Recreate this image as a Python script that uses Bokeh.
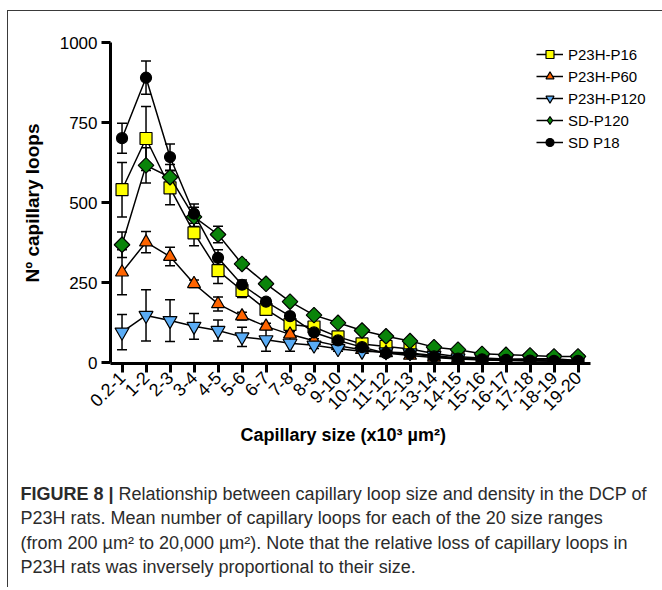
import numpy as np
from bokeh.plotting import figure
from bokeh.models import (ColumnDataSource, Whisker, TeeHead, Legend, LegendItem,
                          Range1d, FixedTicker, Title)
from bokeh.embed import file_html
from bokeh.resources import INLINE
from bokeh.core.properties import value

categories = ["0.2-1", "1-2", "2-3", "3-4", "4-5", "5-6", "6-7", "7-8", "8-9", "9-10",
              "10-11", "11-12", "12-13", "13-14", "14-15", "15-16", "16-17", "17-18",
              "18-19", "19-20"]

p23h_p16 = [540, 700, 546, 405, 287, 225, 166, 119, 111, 80, 58, 50, 42, 28, 18, 14, 11, 9, 8, 6]
p23h_p16_err = [85, 100, 53, 40, 40, 22, 18, 12, 10, 8, 6, 5, 5, 4, 3, 3, 2, 2, 2, 2]

p23h_p60 = [282, 376, 331, 246, 183, 145, 113, 88, 68, 52, 40, 30, 22, 16, 11, 8, 6, 5, 4, 3]
p23h_p60_err = [70, 33, 29, 12, 22, 12, 10, 8, 6, 5, 4, 4, 3, 3, 2, 2, 2, 2, 2, 2]

p23h_p120 = [95, 147, 131, 113, 100, 80, 71, 60, 54, 43, 35, 33, 30, 22, 14, 10, 8, 12, 12, 6]
p23h_p120_err = [55, 80, 65, 40, 33, 30, 36, 25, 10, 8, 6, 6, 5, 4, 3, 3, 3, 3, 3, 2]

sd_p120 = [368, 616, 579, 455, 400, 308, 246, 190, 148, 124, 100, 82, 67, 48, 40, 27, 24, 22, 19, 19]
sd_p120_err = [40, 55, 40, 30, 26, 12, 10, 8, 7, 6, 5, 5, 4, 4, 3, 3, 3, 3, 3, 3]

sd_p18 = [701, 890, 642, 465, 327, 243, 190, 145, 94, 69, 48, 29, 27, 19, 12, 10, 8, 6, 5, 5]
sd_p18_err = [47, 52, 41, 30, 25, 15, 10, 8, 6, 5, 4, 4, 3, 3, 2, 2, 2, 2, 2, 2]

series_names = ["P23H-P16", "P23H-P60", "P23H-P120", "SD-P120", "SD P18"]
series_values = [p23h_p16, p23h_p60, p23h_p120, sd_p120, sd_p18]
series_errors = [p23h_p16_err, p23h_p60_err, p23h_p120_err, sd_p120_err, sd_p18_err]
series_colors = ["#FFFF00", "#FF6400", "#5AACF5", "#0A840A", "#000000"]
series_markers = ["square", "triangle", "inverted_triangle", "square", "circle"]
legend_markers = ["square", "triangle", "inverted_triangle", "diamond", "circle"]
series_sizes = [12, 13, 14, 11, 11]
series_angles = [0, 0, 0, np.pi / 4, 0]

y_ticks = [0, 250, 500, 750, 1000]

x_title = "Capillary size (x10³ µm²)"
y_title = "Nº capillary loops"

caption_bold = "FIGURE 8 |"
caption_lines = [
    "Relationship between capillary loop size and density in the DCP of",
    "P23H rats. Mean number of capillary loops for each of the 20 size ranges",
    "(from 200 µm² to 20,000 µm²). Note that the relative loss of capillary loops in",
    "P23H rats was inversely proportional to their size.",
]

FONT = "Liberation Sans"
BORDER = "1px solid #3a3a3a"
x_idx = list(range(len(categories)))

p = figure(x_range=Range1d(-0.48, 22.52), y_range=Range1d(-3.125, 1000),
           frame_width=552, frame_height=321,
           min_border_left=102, min_border_right=0, min_border_top=31, min_border_bottom=96,
           output_backend="svg", toolbar_location=None, tools="",
           styles={"margin-left": "7px", "margin-top": "10px",
                   "border-top": BORDER, "border-left": BORDER})

p.outline_line_color = None
p.xgrid.grid_line_color = None
p.ygrid.grid_line_color = None
p.background_fill_color = "white"
p.border_fill_color = "white"

for ax in (p.xaxis[0], p.yaxis[0]):
    ax.axis_line_width = 3
    ax.axis_line_color = "black"
    ax.major_tick_line_width = 3
    ax.major_tick_line_color = "black"
    ax.major_tick_in = 0
    ax.major_tick_out = 9
    ax.minor_tick_line_color = None
    ax.major_label_text_font = FONT
    ax.major_label_text_font_size = "17px"
    ax.major_label_text_color = "black"
    ax.axis_label_text_font = FONT
    ax.axis_label_text_font_size = "19px"
    ax.axis_label_text_font_style = "bold"
    ax.axis_label_text_color = "black"

p.yaxis.ticker = FixedTicker(ticks=y_ticks, minor_ticks=[])
p.yaxis.bounds = (0, 1000)
p.yaxis.axis_label = y_title
p.yaxis.major_label_standoff = 4
p.yaxis.axis_label_standoff = 14

p.xaxis.ticker = FixedTicker(ticks=x_idx, minor_ticks=[])
p.xaxis.major_label_overrides = {i: c for i, c in zip(x_idx, categories)}
p.xaxis.bounds = (-0.48, 19.54)
p.xaxis.major_label_orientation = np.pi / 4
p.xaxis.major_label_standoff = 2
p.xaxis.major_label_text_font_size = "18px"

p.add_layout(Title(text=x_title, align="left", offset=130, standoff=6,
                   text_font=FONT, text_font_size="18px", text_font_style="bold",
                   text_color="black"), "below")

items = []
for name, vals, errs, col, mk, lmk, sz, ang in zip(series_names, series_values, series_errors,
                                                   series_colors, series_markers, legend_markers,
                                                   series_sizes, series_angles):
    v = np.array(vals, dtype=float)
    e = np.array(errs, dtype=float)
    src = ColumnDataSource(dict(x=x_idx, y=v, upper=v + e, lower=v - e))
    w = Whisker(source=src, base="x", upper="upper", lower="lower", dimension="height",
                line_color="black", line_width=1.5,
                upper_head=TeeHead(size=10, line_width=1.5, line_color="black"),
                lower_head=TeeHead(size=10, line_width=1.5, line_color="black"),
                level="underlay")
    p.add_layout(w)
    lr = p.line(x="x", y="y", source=src, line_color="black", line_width=1.5)
    sr = p.scatter(x="x", y="y", source=src, marker=mk, size=sz, angle=ang,
                   fill_color=col, line_color="black", line_width=1.2)
    if lmk != mk:
        proxy = p.scatter(x=[np.nan], y=[np.nan], marker=lmk, size=sz,
                          fill_color=col, line_color="black", line_width=1.2)
        items.append(LegendItem(label=name, renderers=[lr, proxy]))
    else:
        items.append(LegendItem(label=name, renderers=[lr, sr]))

legend = Legend(items=items, location=(426, 211), padding=0, margin=0, spacing=2,
                glyph_height=20, glyph_width=27, label_standoff=5, label_height=20,
                label_text_font=FONT, label_text_font_size="15px", label_text_color="black",
                border_line_color=None, background_fill_alpha=0)
p.add_layout(legend)

# caption panel (separate root so that its frame is not aligned with the chart's frame)
cap_h = 128
cap = figure(x_range=Range1d(0, 654), y_range=Range1d(cap_h, 0),
             frame_width=654, frame_height=cap_h, min_border=0,
             x_axis_location=None, y_axis_location=None,
             output_backend="svg", toolbar_location=None, tools="",
             styles={"margin-left": "7px", "border-left": BORDER})
cap.outline_line_color = None
cap.xgrid.grid_line_color = None
cap.ygrid.grid_line_color = None
cap.border_fill_color = "white"
cap.background_fill_color = "white"

cap_color = "#2b2b2b"
cap_size = "18px"
line_y = [34, 58.5, 83, 107.3]
cap.text(x=[12], y=[line_y[0]], text=[caption_bold], text_font=value(FONT),
         text_font_size=cap_size, text_font_style="bold", text_color=cap_color,
         text_baseline="middle", text_align="left")
cap.text(x=[110] + [12] * 3, y=line_y, text=caption_lines, text_font=value(FONT),
         text_font_size=cap_size, text_color=cap_color,
         text_baseline="middle", text_align="left")

open("out.html", "w").write(file_html([p, cap], INLINE))
